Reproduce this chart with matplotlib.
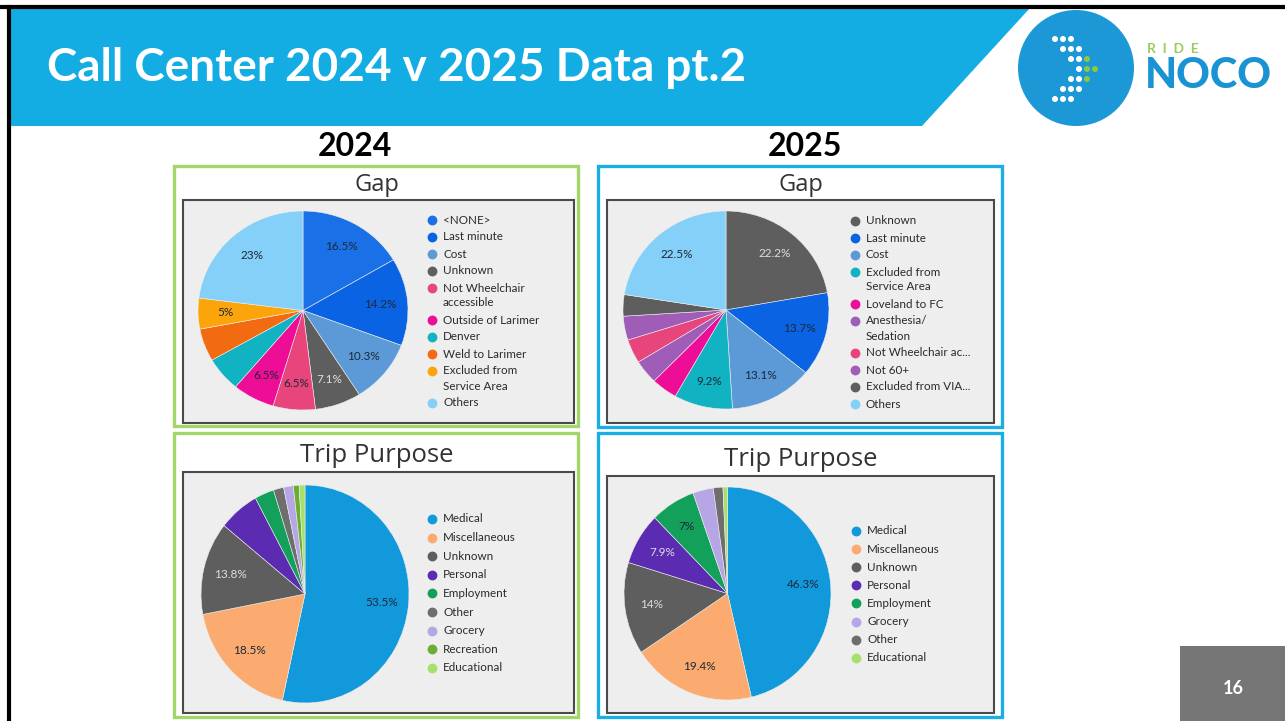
import matplotlib
matplotlib.use("Agg")
import matplotlib.pyplot as plt
from matplotlib.patches import Rectangle, Polygon, Circle

W, H = 1285, 721

# ---- data ----
gap24_labels = ["<NONE>", "Last minute", "Cost", "Unknown", "Not Wheelchair\naccessible",
                "Outside of Larimer", "Denver", "Weld to Larimer",
                "Excluded from\nService Area", "Others"]
gap24_values = [16.5, 14.2, 10.3, 7.1, 6.5, 6.5, 5.6, 5.3, 5.0, 23.0]
gap24_shown = [True, True, True, True, True, True, False, False, True, True]

gap25_labels = ["Unknown", "Last minute", "Cost", "Excluded from\nService Area",
                "Loveland to FC", "Anesthesia/\nSedation", "Not Wheelchair ac...",
                "Not 60+", "Excluded from VIA...", "Others"]
gap25_values = [22.2, 13.7, 13.1, 9.2, 4.1, 3.9, 3.9, 3.9, 3.5, 22.5]
gap25_shown = [True, True, True, True, False, False, False, False, False, True]

trip24_labels = ["Medical", "Miscellaneous", "Unknown", "Personal", "Employment",
                 "Other", "Grocery", "Recreation", "Educational"]
trip24_values = [53.5, 18.5, 13.8, 6.3, 3.0, 1.6, 1.5, 0.9, 0.9]
trip24_shown = [True, True, True, False, False, False, False, False, False]

trip25_labels = ["Medical", "Miscellaneous", "Unknown", "Personal", "Employment",
                 "Grocery", "Other", "Educational"]
trip25_values = [46.3, 19.4, 14.0, 7.9, 7.0, 3.2, 1.5, 0.7]
trip25_shown = [True, True, True, True, True, False, False, False]

# ---- colours ----
C = {
    "<NONE>": "#1a70e6", "Last minute": "#0a63e2", "Cost": "#5b9ad6", "Unknown": "#5e5e5e",
    "Not Wheelchair\naccessible": "#e8457c", "Not Wheelchair ac...": "#e8457c",
    "Outside of Larimer": "#ee0d96", "Loveland to FC": "#ee0d96", "Denver": "#11b3c2",
    "Excluded from\nService Area": "#fba50b", "Weld to Larimer": "#f26b10",
    "Others": "#84d0f8", "Anesthesia/\nSedation": "#a05db8", "Not 60+": "#a05db8",
    "Excluded from VIA...": "#5e5e5e",
    "Medical": "#1199db", "Miscellaneous": "#fbab6f", "Personal": "#5b2cb2",
    "Employment": "#13a05a", "Other": "#6e6e6e", "Grocery": "#b6a6e6",
    "Recreation": "#6aae33", "Educational": "#a7e06b",
}
DARK = {"#5e5e5e", "#5b2cb2", "#6e6e6e"}
gap25_colors = [C[l] for l in gap25_labels]
gap25_colors[3] = "#11b3c2"   # excluded from service area is teal in 2025

fig = plt.figure(figsize=(W / 100, H / 100), dpi=100)
bg = fig.add_axes([0, 0, 1, 1])
bg.set_xlim(0, W)
bg.set_ylim(H, 0)
bg.axis("off")

# slide frame and header band
bg.add_patch(Polygon([(10, 8), (1030, 8), (922, 126), (10, 126)], closed=True,
                     fc="#13ade3", ec="none"))
bg.plot([0, W], [7, 7], color="black", lw=3)
bg.plot([9, 9], [7, H], color="black", lw=3)
bg.text(47, 68, "Call Center 2024 v 2025 Data pt.2", color="white", fontsize=33,
        fontweight="bold", family="Lato", va="center", ha="left")

# logo
bg.add_patch(Circle((1076, 68), 58, fc="#1d98d6", ec="none"))
dots = [(0, [0, 1, 2], []), (1, [1, 2, 3], []), (2, [2, 3], [4]), (3, [3], [4, 5]),
        (4, [2, 3], [4]), (5, [1, 2, 3], []), (6, [0, 1, 2], [])]
for row, whites, greens in dots:
    for c in whites:
        bg.add_patch(Circle((1055 + c * 8, 39 + row * 10), 3.0, fc="white", ec="none"))
    for c in greens:
        bg.add_patch(Circle((1055 + c * 8, 39 + row * 10), 3.0, fc="#8dc63f", ec="none"))
bg.text(1147, 49, "R  I  D  E", color="#9ccc5c", fontsize=10, fontweight="bold",
        family="Lato", va="center", ha="left")
bg.text(1145, 76, "NOCO", color="#1a93d3", fontsize=30, fontweight="black",
        family="Lato", va="center", ha="left")

# page number
bg.add_patch(Rectangle((1180, 646), 105, 75, fc="#767676", ec="none"))
bg.text(1233, 688, "16", color="white", fontsize=13, fontweight="bold",
        family="Lato", ha="center", va="center")

# year headings
bg.text(355, 147, "2024", fontsize=23, fontweight="bold", family="Lato",
        ha="center", va="center")
bg.text(805, 147, "2025", fontsize=23, fontweight="bold", family="Lato",
        ha="center", va="center")


def panel(outer, inner, edge, title, ty, tsize):
    x0, y0, x1, y1 = outer
    bg.add_patch(Rectangle((x0, y0), x1 - x0, y1 - y0, fc="white", ec=edge, lw=2.4))
    x0, y0, x1, y1 = inner
    bg.add_patch(Rectangle((x0, y0), x1 - x0, y1 - y0, fc="#eeeeee", ec="#4a4a4a", lw=1.5))
    bg.text((outer[0] + outer[2]) / 2 + 1, ty, title, fontsize=tsize, color="#333333",
            family="Open Sans", ha="center", va="center")


def pie(box, values, labels, shown, colors):
    x0, y0, x1, y1 = box
    ax = fig.add_axes([x0 / W, 1 - y1 / H, (x1 - x0) / W, (y1 - y0) / H])
    txt = [f"{v:g}%" if s else "" for v, s in zip(values, shown)]
    wedges, texts = ax.pie(values, colors=colors, labels=txt, startangle=90,
                           counterclock=False, labeldistance=0.74,
                           wedgeprops=dict(edgecolor="#eeeeee", linewidth=0.4),
                           textprops=dict(fontsize=8.5, family="Lato"))
    for t, c in zip(texts, colors):
        t.set_ha("center")
        t.set_va("center")
        t.set_color("#dddddd" if c in DARK else "#1e2838")
    ax.set_xlim(-1, 1)
    ax.set_ylim(-1, 1)
    ax.set_aspect("auto")
    ax.axis("off")


def legend(x, y, labels, colors, step, wrap=15):
    for lab, col in zip(labels, colors):
        bg.scatter([x], [y], s=50, color=col, zorder=3, linewidths=0)
        for i, line in enumerate(lab.split("\n")):
            bg.text(x + 11, y + i * wrap, line, fontsize=8.4, color="#2a2a2a",
                    family="Lato", va="center", ha="left")
        y += step + wrap * lab.count("\n")


GREEN, BLUE = "#a3d66a", "#1aaee5"
panel((174, 166, 578, 426), (183, 200, 574, 423), GREEN, "Gap", 185, 17)
panel((598, 166, 1002, 427), (607, 200, 994, 423), BLUE, "Gap", 185, 17)
panel((174, 433, 578, 717), (183, 472, 574, 713), GREEN, "Trip Purpose", 456, 18.5)
panel((598, 433, 1002, 717), (607, 476, 994, 713), BLUE, "Trip Purpose", 459, 18.5)

gap24_colors = [C[l] for l in gap24_labels]
trip24_colors = [C[l] for l in trip24_labels]
trip25_colors = [C[l] for l in trip25_labels]

pie((198, 211, 408, 410), gap24_values, gap24_labels, gap24_shown, gap24_colors)
pie((623, 211, 829, 409), gap25_values, gap25_labels, gap25_shown, gap25_colors)
pie((201, 485, 409, 703), trip24_values, trip24_labels, trip24_shown, trip24_colors)
pie((624, 487, 831, 700), trip25_values, trip25_labels, trip25_shown, trip25_colors)

legend(432, 220, gap24_labels, gap24_colors, 17)
legend(855, 221, gap25_labels, gap25_colors, 17)
legend(432, 519, trip24_labels, trip24_colors, 18.6)
legend(856, 531, trip25_labels, trip25_colors, 18.1)

fig.savefig("out.png", dpi=100)
